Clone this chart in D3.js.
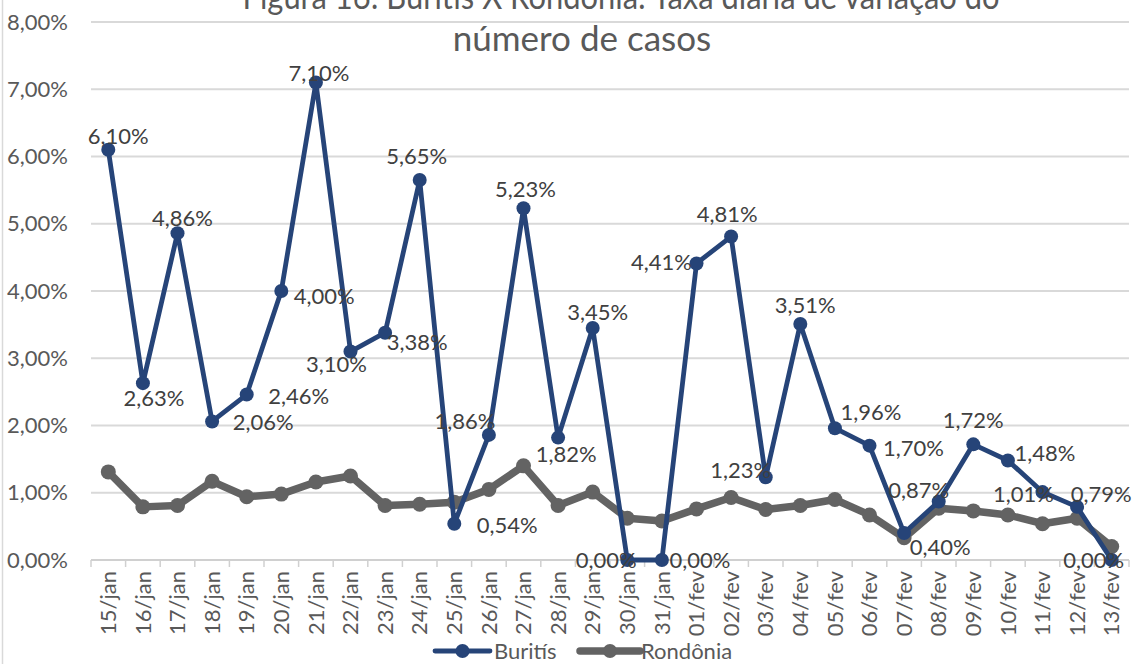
<!DOCTYPE html>
<html>
<head>
<meta charset="utf-8">
<script src="https://cdn.jsdelivr.net/npm/d3@7"></script>
<style>
  body { margin: 0; background: #fff; }
  svg { display: block; font-family: Lato, "Open Sans", sans-serif; }
</style>
</head>
<body>
<script>
// Chart data
const categories = ['15/jan','16/jan','17/jan','18/jan','19/jan','20/jan','21/jan','22/jan','23/jan','24/jan',
  '25/jan','26/jan','27/jan','28/jan','29/jan','30/jan','31/jan','01/fev','02/fev','03/fev',
  '04/fev','05/fev','06/fev','07/fev','08/fev','09/fev','10/fev','11/fev','12/fev','13/fev'];
const buritis = [6.10, 2.63, 4.86, 2.06, 2.46, 4.00, 7.10, 3.10, 3.38, 5.65,
  0.54, 1.86, 5.23, 1.82, 3.45, 0.00, 0.00, 4.41, 4.81, 1.23,
  3.51, 1.96, 1.70, 0.40, 0.87, 1.72, 1.48, 1.01, 0.79, 0.00];
const rondonia = [1.31, 0.79, 0.81, 1.17, 0.94, 0.98, 1.16, 1.25, 0.81, 0.83,
  0.86, 1.05, 1.40, 0.81, 1.01, 0.62, 0.58, 0.76, 0.93, 0.75,
  0.81, 0.90, 0.67, 0.33, 0.77, 0.73, 0.67, 0.54, 0.62, 0.20];
const yTicks = [0, 1, 2, 3, 4, 5, 6, 7, 8];
const seriesNames = ['Buritís', 'Rondônia'];
const titleLines = ['Figura 16: Buritis X Rondônia: Taxa diária de variação do', 'número de casos'];

// label placement (text centre relative to point), as in the original
const labelOffsets = [[10,-13],[11,15],[5,-15],[51,1],[52,2],[43,5],[3,-9],[-14,13],[32,10],[-3,-24],
  [53,2],[-24,-14],[2,-19],[8,17],[5,-16],[-21,0],[38,0],[-35,-1],[-4,-22],[-25,-7],
  [5,-19],[36,-16],[44,3],[36,14],[-20,-11],[0,-24],[37,-7],[-19,2],[24,-13],[-18,0]];

const width = 1138;
const height = 664;
const plot = {left: 91, right: 1129, top: 22, bottom: 560};
const blue = '#264478';
const gray = '#636363';
const textColor = '#404040';

// Brazilian number format
const locale = d3.formatLocale({decimal: ',', thousands: '.', grouping: [3], currency: ['R$', '']});
const fmt = v => locale.format('.2f')(v) + '%';

const svg = d3.select('body')
  .append('svg')
  .attr('width', width)
  .attr('height', height);

// chart border (left edge visible only)
svg.append('line')
  .attr('x1', 2.5).attr('x2', 2.5)
  .attr('y1', 0).attr('y2', height)
  .attr('stroke', '#d9d9d9')
  .attr('stroke-width', 1.5);

// Scales
const x = d3.scaleBand()
  .domain(categories)
  .range([plot.left, plot.right]);

const y = d3.scaleLinear()
  .domain([0, 8])
  .range([plot.bottom, plot.top]);

const cx = c => x(c) + x.bandwidth() / 2;

// Gridlines
svg.append('g')
  .selectAll('line')
  .data(yTicks.filter(d => d > 0))
  .join('line')
  .attr('x1', plot.left).attr('x2', plot.right)
  .attr('y1', d => y(d)).attr('y2', d => y(d))
  .attr('stroke', '#d9d9d9')
  .attr('stroke-width', 1.8);

// Y axis
const yAxis = d3.axisLeft(y)
  .tickValues(yTicks)
  .tickSize(0)
  .tickPadding(0)
  .tickFormat(d => fmt(d));

svg.append('g')
  .attr('transform', 'translate(68,0)')
  .call(yAxis)
  .call(g => g.select('.domain').remove())
  .selectAll('text')
  .attr('fill', '#595959')
  .attr('font-size', 22)
  .attr('font-family', 'Lato');

// X axis line and tick marks between categories
svg.append('line')
  .attr('x1', plot.left).attr('x2', plot.right)
  .attr('y1', plot.bottom).attr('y2', plot.bottom)
  .attr('stroke', '#d0d0d0')
  .attr('stroke-width', 1.8);

svg.append('g')
  .selectAll('line')
  .data(categories.concat(['end']))
  .join('line')
  .attr('x1', (d, i) => i < categories.length ? x(d) : plot.right)
  .attr('x2', (d, i) => i < categories.length ? x(d) : plot.right)
  .attr('y1', plot.bottom).attr('y2', plot.bottom + 7)
  .attr('stroke', '#d0d0d0')
  .attr('stroke-width', 1.5);

// X labels rotated
svg.append('g')
  .selectAll('text')
  .data(categories)
  .join('text')
  .attr('transform', d => 'translate(' + cx(d) + ',' + (plot.bottom + 11) + ') rotate(-90)')
  .attr('text-anchor', 'end')
  .attr('dy', '0.35em')
  .attr('fill', '#595959')
  .attr('font-size', 22)
  .text(d => d);

// Lines
const line = d3.line()
  .x((d, i) => cx(categories[i]))
  .y(d => y(d));

svg.append('path')
  .attr('d', line(rondonia))
  .attr('fill', 'none')
  .attr('stroke', gray)
  .attr('stroke-width', 7.5)
  .attr('stroke-linejoin', 'round');

svg.append('g')
  .selectAll('circle')
  .data(rondonia)
  .join('circle')
  .attr('cx', (d, i) => cx(categories[i]))
  .attr('cy', d => y(d))
  .attr('r', 7.5)
  .attr('fill', gray);

svg.append('path')
  .attr('d', line(buritis))
  .attr('fill', 'none')
  .attr('stroke', blue)
  .attr('stroke-width', 4.8)
  .attr('stroke-linejoin', 'round');

svg.append('g')
  .selectAll('circle')
  .data(buritis)
  .join('circle')
  .attr('cx', (d, i) => cx(categories[i]))
  .attr('cy', d => y(d))
  .attr('r', 7)
  .attr('fill', blue);

// Data labels (Buritis)
svg.append('g')
  .selectAll('text')
  .data(buritis)
  .join('text')
  .attr('x', (d, i) => cx(categories[i]) + labelOffsets[i][0])
  .attr('y', (d, i) => y(d) + labelOffsets[i][1])
  .attr('dy', '0.35em')
  .attr('text-anchor', 'middle')
  .attr('fill', textColor)
  .attr('font-size', 22)
  .text(d => fmt(d));

// Title (first line runs past the top edge, as in the original)
svg.append('g')
  .selectAll('text')
  .data(titleLines)
  .join('text')
  .attr('x', (d, i) => i == 0 ? 621 : 582)
  .attr('y', (d, i) => i == 0 ? 9 : 51)
  .attr('text-anchor', 'middle')
  .attr('fill', '#595959')
  .attr('font-size', 35)
  .each(function(d, i) {
    if (i == 0) d3.select(this).attr('textLength', 757).attr('lengthAdjust', 'spacingAndGlyphs');
  })
  .text(d => d);

// Legend
const legendItems = [
  {name: seriesNames[0], color: blue, w: 4.8, x0: 435, x1: 490, tx: 494},
  {name: seriesNames[1], color: gray, w: 7.5, x0: 580, x1: 640, tx: 641}
];
const legend = svg.append('g').attr('transform', 'translate(0,651)');
legendItems.forEach(item => {
  legend.append('line')
    .attr('x1', item.x0).attr('x2', item.x1)
    .attr('y1', 0).attr('y2', 0)
    .attr('stroke', item.color)
    .attr('stroke-width', item.w)
    .attr('stroke-linecap', 'round');
  legend.append('circle')
    .attr('cx', (item.x0 + item.x1) / 2)
    .attr('cy', 0)
    .attr('r', 7)
    .attr('fill', item.color);
  legend.append('text')
    .attr('x', item.tx)
    .attr('y', 0)
    .attr('dy', '0.35em')
    .attr('fill', '#595959')
    .attr('font-size', 22)
    .text(item.name);
});
</script>
</body>
</html>
